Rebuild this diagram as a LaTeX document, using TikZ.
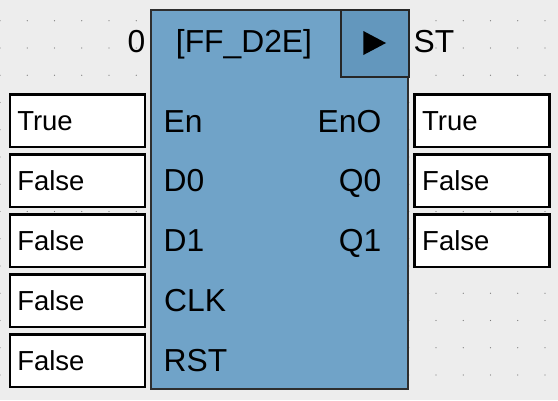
\documentclass[tikz,border=0pt]{standalone}
\usepackage{fontspec}
\setmainfont{Liberation Sans}
\usepackage{tikz}
\definecolor{bggray}{HTML}{EDEDED}
\definecolor{blockblue}{HTML}{70A3C8}
\definecolor{runblue}{HTML}{6397BD}
\definecolor{edgegray}{HTML}{2E2E2E}
\definecolor{dotgray}{HTML}{7A7A7A}
\tikzstyle{block} = [draw=edgegray, fill=blockblue, line width=2pt, minimum width=257pt, minimum height=379pt, inner sep=0pt]
\tikzstyle{runbox} = [draw=black!85, fill=runblue, line width=2pt, minimum width=67.5pt, minimum height=67pt, inner sep=0pt]
\tikzstyle{valbox} = [draw=black, fill=white, line width=2.5pt, text width=120pt, inner xsep=7.5pt, minimum height=52.5pt, align=left, font=\fontsize{27.5}{30}\selectfont]
\tikzstyle{pinin} = [anchor=base west, inner sep=0pt, font=\fontsize{31.8}{36}\selectfont]
\tikzstyle{pinout} = [anchor=base east, inner sep=0pt, font=\fontsize{31.8}{36}\selectfont]

\begin{document}
\begin{tikzpicture}[x=1pt,y=-1pt]
  \fill [bggray] (0,0) rectangle (558,400);
  \useasboundingbox (0,0) rectangle (558,400);
  % dotted grid
  \foreach \i in {0,...,20}
    \foreach \j in {0,...,13}
      \fill [dotgray] (\i*27.25, 20.7+\j*27.25) circle (0.7pt);

  \node (fb) at (279.5,199.5) [block] {};
  \node (run) at (374.75,43.5) [runbox] {};
  \fill [black, shift={(run.center)}] (-11.4,-12.5) -- (11.3,-0.5) -- (-11.4,11.5) -- cycle;

  \node (title) at (244,52.3) [pinin, anchor=base] {[FF\_D2E]};
  \node (inst) at (145.5,52.3) [pinout] {0};
  \node (st) at (413.5,52.3) [pinin] {ST};

  \node (en) at (163.5,132.3) [pinin] {En};
  \node (d0) at (163.5,191.9) [pinin] {D0};
  \node (d1) at (163.5,251.7) [pinin] {D1};
  \node (clk) at (164,311.7) [pinin] {CLK};
  \node (rst) at (163.5,371) [pinin] {RST};
  \node (eno) at (381.5,132.3) [pinout] {EnO};
  \node (q0) at (381.5,191.9) [pinout] {Q0};
  \node (q1) at (381.5,251.7) [pinout] {Q1};

  \node (ien) at (77.25,120.75) [valbox] {True};
  \node (id0) at (77.25,180.75) [valbox] {False};
  \node (id1) at (77.25,240.75) [valbox] {False};
  \node (iclk) at (77.25,300.75) [valbox] {False};
  \node (irst) at (77.25,360.75) [valbox] {False};
  \node (oeno) at (482.2,120.75) [valbox] {True};
  \node (oq0) at (482.2,180.75) [valbox] {False};
  \node (oq1) at (482.2,240.75) [valbox] {False};
\end{tikzpicture}
\end{document}
